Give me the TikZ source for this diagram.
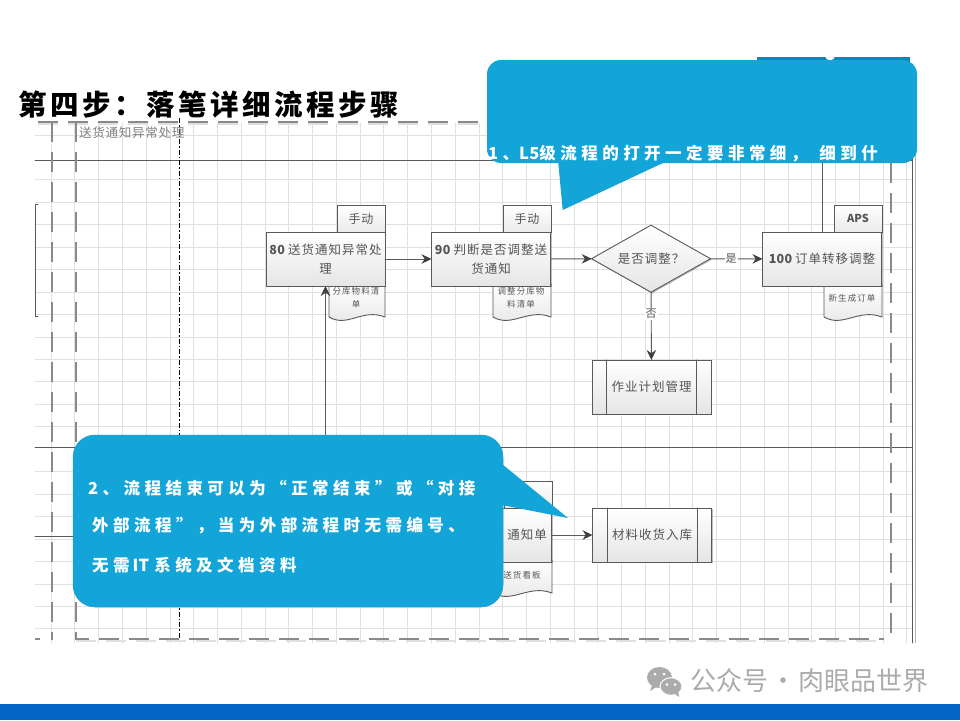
\documentclass[tikz,border=0pt]{standalone}
\usepackage{fontspec}
\setmainfont{Noto Sans CJK SC}
\usetikzlibrary{arrows.meta,shapes.geometric,shadows}
\definecolor{callblue}{HTML}{14A5D8}
\definecolor{calldark}{HTML}{1184BE}
\definecolor{barblue}{HTML}{0565C4}
\definecolor{gridgray}{HTML}{E0E0E0}
\definecolor{linegray}{HTML}{5A5A5A}
\definecolor{dashgray}{HTML}{8A8A8A}
\definecolor{txtgray}{HTML}{555555}
\definecolor{wmgray}{HTML}{ABABAB}
\newcommand{\plainlatin}[1]{{\addfontfeature{LetterSpace=2}#1}}
\tikzset{
  boxshadow/.style={drop shadow={shadow xshift=1pt,shadow yshift=-1.2pt,opacity=.25,fill=black}},
  flowbox/.style={draw=linegray,line width=0.9pt,top color=white,bottom color=black!10,boxshadow,minimum width=119pt,minimum height=54pt,inner sep=1pt,outer sep=0pt,align=center,text=txtgray,font=\fontsize{12.5}{19}\selectfont\addfontfeature{LetterSpace=8}},
  tabbox/.style={draw=linegray,line width=0.9pt,top color=white,bottom color=black!8,minimum width=48pt,minimum height=27pt,inner sep=1pt,outer sep=0pt,text=txtgray,font=\fontsize{12}{14}\selectfont\addfontfeature{LetterSpace=8}},
  docnote/.style={inner sep=0pt,align=center,text=txtgray,font=\fontsize{8.5}{12.5}\selectfont\addfontfeature{LetterSpace=13}},
  calltext/.style={anchor=west,inner sep=0pt,text=white,font=\bfseries\fontsize{16.5}{20}\selectfont\addfontfeature{LetterSpace=27}},
  lane/.style={draw=linegray,line width=1pt},
  bigdash/.style={draw=dashgray,line width=2.6pt,line cap=butt,dash pattern=on 20pt off 10pt},
  dashglow/.style={draw=black!12,line width=2.6pt,line cap=butt,dash pattern=on 20pt off 10pt},
  flowarrow/.style={draw=linegray,line width=0.9pt,-{Stealth[length=10pt,width=9.5pt,black!75]}},
}
\begin{document}
\begin{tikzpicture}[x=1pt,y=-1pt,line cap=round,line join=miter,>=stealth]
  \useasboundingbox (0,0) rectangle (960,720);
  \fill[white] (0,0) rectangle (960,720);
  \def\gx{23.77}
  \def\gy{22.45}
  \foreach \i in {-2,-1,...,34}{
    \draw[gridgray,line width=1pt] ({98.7+\i*\gx},123) -- ({98.7+\i*\gx},643);
  }
  \foreach \j in {0,2,3,4,5,6,7,8,9,10,11,12,13,15,16,17,18,19,20,21,22}{
    \draw[gridgray,line width=1pt] (35,{135+\j*\gy}) -- (913,{135+\j*\gy});
  }
  \draw[lane] (35,160) -- (912,160);
  \draw[lane] (35,447.5) -- (912,447.5);
  \draw[lane] (35,536.5) -- (76,536.5);
  \draw[linegray,line width=0.9pt] (38,204) -- (35.5,204) -- (35.5,316) -- (38,316);
  \draw[linegray,line width=0.8pt] (912,123) -- (912,643);
  \draw[gridgray!80!black,line width=0.8pt] (915,123) -- (915,643);
  \draw[black,line width=1.1pt,line cap=butt,dash pattern=on 5pt off 2pt on 1.5pt off 2pt] (179.5,118) -- (179.5,643);
  \draw[dashglow] (38,124) -- (905,124);
  \draw[dashglow] (76,641) -- (884,641);
  \draw[bigdash] (38,122) -- (905,122);
  \draw[bigdash] (52,122) -- (52,640);
  \draw[bigdash] (76,122) -- (76,639) -- (884,639);
  \draw[bigdash] (891,163) -- (891,640);
  \draw[bigdash] (35,639) -- (40,639);
  \node[anchor=west,inner sep=0pt,text=black!50,font=\fontsize{12.6}{14}\selectfont\addfontfeature{LetterSpace=5}] (lanetitle) at (79,133) {送货通知异常处理};
  \fill[calldark] (757,57) rectangle (910,62);
  \fill[white] (830,55.5) circle (5pt);

  \node[tabbox] (tab80) at (361,218.5) {手动};
  \node[tabbox] (tab90) at (527,218.5) {手动};
  \node[tabbox,font=\bfseries\fontsize{11}{14}\selectfont] (tab100) at (858,218.5) {APS};
  \node[tabbox] (tab110) at (528,494.5) {};
  \foreach \xa/\xb/\yb in {329/385/317,493/551/317,824/882/317,493/552/593}{
    \path[draw=linegray,line width=0.9pt,top color=white,bottom color=black!10] (\xa,{\yb-33}) -- (\xa,\yb)
      .. controls ({\xa+0.33*(\xb-\xa)},{\yb+11}) and ({\xa+0.6*(\xb-\xa)},{\yb-9}) .. (\xb,\yb) -- (\xb,{\yb-33}) -- cycle;
  }
  \node[flowbox] (step80) at (325.5,259) {\textbf{\plainlatin{80}}\hspace{-1pt} 送货通知异常处\\理};
  \node[flowbox] (step90) at (491,259) {\textbf{\plainlatin{90}}\hspace{-1pt} 判断是否调整送\\货通知};
  \node[flowbox] (step100) at (822,259) {\textbf{\plainlatin{100}}\hspace{-1pt} 订单转移调整};
  \node[flowbox] (step110) at (492,535) {};
  \node[flowbox,diamond,shape aspect=1.78,minimum width=119pt,minimum height=67pt,inner sep=0pt] (judge) at (651,258.7) {是否调整？};
  \foreach \nm/\cx/\cy/\lbl in {plan/651.5/387/作业计划管理,receive/652/535/材料收货入库}{
    \node[flowbox] (\nm) at (\cx,\cy) {\lbl};
    \draw[linegray,line width=0.9pt] ({\cx-45},{\cy-27}) -- ({\cx-45},{\cy+27});
    \draw[linegray,line width=0.9pt] ({\cx+45},{\cy-27}) -- ({\cx+45},{\cy+27});
  }
  \node[docnote] (doc80) at (356,298) {分库物料清\\单};
  \node[docnote] (doc90) at (521,298) {调整分库物\\料清单};
  \node[docnote] (doc100) at (852,298) {新生成订单};
  \node[docnote] (doc110) at (522,575) {送货看板};
  \node[inner sep=0pt,text=txtgray,font=\fontsize{12.5}{19}\selectfont\addfontfeature{LetterSpace=8}] (name110) at (527,535) {通知单};

  \coordinate (up80) at (325.5,440);
  \coordinate (up100) at (822,160);
  \draw[flowarrow] (up80) -- (step80.south);
  \draw[linegray,line width=0.9pt] (step100.north) -- (up100);
  \draw[flowarrow] (step80) -- (step90);
  \draw[flowarrow] (step90) -- (judge);
  \draw[flowarrow] (judge) -- node[pos=0.40,fill=white,inner sep=1pt,text=txtgray,font=\fontsize{11}{12}\selectfont] (yeslabel) {是} (step100);
  \draw[flowarrow] (judge) -- node[pos=0.32,fill=white,inner sep=1pt,text=txtgray,font=\fontsize{11}{12}\selectfont] (nolabel) {否} (plan);
  \draw[flowarrow] (step110) -- (receive);

  \node[fill=callblue,rounded corners=14pt,minimum width=430pt,minimum height=103pt,inner sep=0pt] (call1) at (702,111.5) {};
  \fill[callblue] (558,160) -- (562.7,210) -- (665,162) -- cycle;
  \node[calltext] (call1text) at (488,154) {1、\plainlatin{L5}级流程的打开一定要非常细，\hspace{12pt}细到什};
  \node[fill=callblue,draw=cyan!35!callblue,line width=0.5pt,rounded corners=22pt,minimum width=430pt,minimum height=172pt,inner sep=0pt] (call2) at (288,521) {};
  \fill[callblue] (502,464) -- (568,518) -- (502,505) -- cycle;
  \node[calltext] (call2a) at (88,488) {2、流程结束可以为“正常结束”或“对接};
  \node[calltext] (call2b) at (92,526) {外部流程”，当为外部流程时无需编号、};
  \node[calltext] (call2c) at (92,565) {无需\hspace{3pt}\plainlatin{IT}\hspace{5pt}系统及文档资料};

  \node[anchor=west,inner sep=0pt,text=black,font=\bfseries\fontsize{28.5}{32}\selectfont\addfontfeature{LetterSpace=12.5}] (title) at (18,105) {第四步：落笔详细流程步骤};

  \fill[wmgray] (659.5,677.5) ellipse (12.5pt and 10.5pt);
  \fill[wmgray] (650,691) -- (653,683) -- (658,686) -- cycle;
  \draw[white,fill=wmgray,line width=1pt] (671,686.5) ellipse (11pt and 8.8pt);
  \fill[wmgray] (679,697) -- (672,692) -- (678,690) -- cycle;
  \foreach \ex/\ey in {655/674,664/674,667/684.5,675/684.5}{
    \fill[white] (\ex,\ey) circle (1.5pt);
  }
  \node[anchor=west,inner sep=0pt,text=wmgray,font=\fontsize{26}{30}\selectfont] (mark) at (690,681) {公众号\hspace{2pt}·\hspace{2pt}肉眼品世界};
  \fill[barblue] (0,704) rectangle (960,720);
\end{tikzpicture}
\end{document}
